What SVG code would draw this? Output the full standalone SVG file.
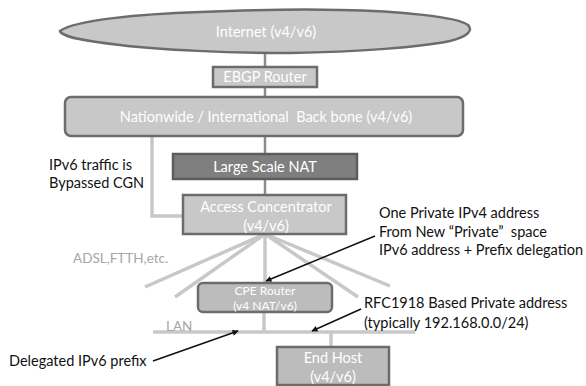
<svg xmlns="http://www.w3.org/2000/svg" width="586" height="386" viewBox="0 0 586 386">
  <defs>
    <marker id="arrow" viewBox="0 0 10 10" refX="9" refY="5" markerWidth="8" markerHeight="6" markerUnits="userSpaceOnUse" orient="auto">
      <path d="M0,0 L10,5 L0,10 Z" fill="#111"/>
    </marker>
    <style>
      .box { fill: #c8c8c8; stroke: #6c6c6c; stroke-width: 2.5; }
      .dark { fill: #7f7f7f; stroke: #5c5c5c; stroke-width: 2.5; }
      .cpe { fill: #bcbcbc; stroke: #6c6c6c; stroke-width: 2.5; }
      .in { font-family: Lato, "Open Sans", sans-serif; font-size: 14.5px; fill: #ffffff; text-anchor: middle; }
      .note { font-family: Lato, "Open Sans", sans-serif; font-size: 14.5px; fill: #111111; }
      .grey { font-family: Lato, "Open Sans", sans-serif; font-size: 13.5px; fill: #a6a6a6; }
      .trunk { stroke: #8c8c8c; stroke-width: 2.5; fill: none; }
      .link { stroke: #c8c8c8; stroke-width: 3.5; fill: none; }
      .ptr { stroke: #111111; stroke-width: 1.5; fill: none; marker-end: url(#arrow); }
    </style>
  </defs>

  <rect width="586" height="386" fill="#ffffff"/>

  <!-- connectors -->
  <g id="connectors">
    <line class="trunk" x1="265" y1="52" x2="265" y2="68"/>
    <line class="trunk" x1="265" y1="87" x2="265" y2="97"/>
    <line class="trunk" x1="265" y1="136" x2="265" y2="154" stroke="#6c6c6c"/>
    <line class="trunk" x1="265" y1="179" x2="265" y2="195" stroke="#6c6c6c"/>
    <polyline class="link" points="152,136 152,216 183,216"/>
    <!-- access lines fanning out -->
    <line class="link" x1="265" y1="234" x2="145" y2="287"/>
    <line class="link" x1="265" y1="234" x2="175" y2="297"/>
    <line class="link" x1="265" y1="234" x2="265" y2="283"/>
    <line class="link" x1="265" y1="234" x2="358" y2="297"/>
    <line class="link" x1="265" y1="234" x2="390" y2="286"/>
    <!-- LAN segment -->
    <line class="link" x1="264" y1="312" x2="264" y2="332"/>
    <line class="link" x1="153" y1="332" x2="415" y2="332"/>
    <line class="link" x1="331" y1="332" x2="331" y2="347"/>
    <!-- annotation pointers -->
    <line class="ptr" x1="375" y1="236" x2="266" y2="281"/>
    <line class="ptr" x1="361" y1="309" x2="312" y2="331"/>
    <line class="ptr" x1="153" y1="361" x2="238" y2="331"/>
  </g>

  <g id="internet">
    <path class="box" d="M60,31 C75,20 140,14 200,12 C250,10 300,9 340,10 C400,11 458,17 468,25 C474,31 466,37 450,41 C420,47 360,52 290,53 C230,53 160,50 120,45 C85,41 62,37 60,31 Z"/>
    <text class="in" x="266" y="37">Internet (v4/v6)</text>
  </g>

  <g id="ebgp-router">
    <rect class="box" x="213" y="67" width="104" height="20"/>
    <text class="in" x="265" y="82">EBGP Router</text>
  </g>

  <g id="backbone">
    <rect class="box" x="65" y="97" width="398" height="39" rx="6"/>
    <text class="in" x="266" y="122" xml:space="preserve">Nationwide / International  Back bone (v4/v6)</text>
  </g>

  <g id="large-scale-nat">
    <rect class="dark" x="173" y="154" width="184" height="25"/>
    <text class="in" x="265" y="172">Large Scale NAT</text>
  </g>

  <g id="access-concentrator">
    <rect class="box" x="183" y="195" width="163" height="39"/>
    <text class="in" x="266" y="212">Access Concentrator</text>
    <text class="in" x="266" y="231">(v4/v6)</text>
  </g>

  <g id="cpe-router">
    <rect class="cpe" x="198" y="283" width="134" height="29" rx="5"/>
    <text class="in" x="265" y="295" style="font-size:12px">CPE Router</text>
    <text class="in" x="265" y="310" style="font-size:12px">(v4 NAT/v6)</text>
  </g>

  <g id="end-host">
    <rect class="cpe" x="277" y="347" width="112" height="38"/>
    <text class="in" x="333" y="363">End Host</text>
    <text class="in" x="333" y="382">(v4/v6)</text>
  </g>

  <!-- labels -->
  <g id="labels">
    <text class="note" x="49" y="170">IPv6 traffic is</text>
    <text class="note" x="49" y="188">Bypassed CGN</text>
    <text class="note" x="379" y="218">One Private IPv4 address</text>
    <text class="note" x="379" y="237" xml:space="preserve">From New “Private”  space</text>
    <text class="note" x="379" y="255">IPv6 address + Prefix delegation</text>
    <text class="grey" x="73" y="263">ADSL,FTTH,etc.</text>
    <text class="grey" x="166" y="331">LAN</text>
    <text class="note" x="364" y="308">RFC1918 Based Private address</text>
    <text class="note" x="364" y="328">(typically 192.168.0.0/24)</text>
    <text class="note" x="9" y="366">Delegated IPv6 prefix</text>
  </g>
</svg>
